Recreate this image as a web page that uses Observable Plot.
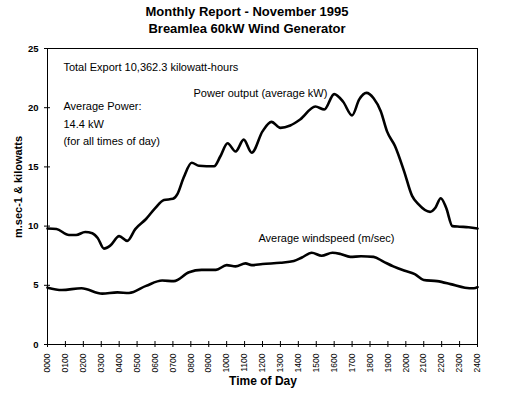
<!DOCTYPE html>
<html>
<head>
<meta charset="utf-8">
<script src="https://cdn.jsdelivr.net/npm/d3@7"></script>
<script src="https://cdn.jsdelivr.net/npm/@observablehq/plot@0.6"></script>
<style>
  body { margin: 0; background: #fff; }
  #wrap { position: relative; width: 521px; height: 399px; font-family: "Liberation Sans", Arial, sans-serif; }
  .t { position: absolute; left: 0; width: 494px; text-align: center; font-weight: bold; font-size: 13px; color: #000; }
  #ylab { position: absolute; left: 18px; top: 187px; transform: translate(-50%, -50%) rotate(-90deg); white-space: nowrap; font-weight: bold; font-size: 11px; }
  #xlab { position: absolute; left: 263px; top: 381px; transform: translate(-50%, -50%); white-space: nowrap; font-weight: bold; font-size: 12px; }
  svg { position: absolute; left: 0; top: 0; }
</style>
</head>
<body>
<div id="wrap">
  <div class="t" style="top:4px">Monthly Report - November 1995</div>
  <div class="t" style="top:21px">Breamlea 60kW Wind Generator</div>
  <div id="ylab">m.sec-1 &amp; kilowatts</div>
  <div id="xlab">Time of Day</div>
</div>
<script>
// Power output (average kW) by hour of day
const powerHours = [0, 0.5, 1.2, 1.6, 2.1, 2.5, 2.8, 3.15, 3.5, 4.0, 4.45, 4.9, 5.5, 6.0, 6.5, 7.0, 7.25, 7.6, 8.05, 8.45, 9.3, 9.65, 10.05, 10.5, 10.95, 11.4, 12.0, 12.5, 13.0, 13.55, 14.1, 14.95, 15.45, 16.0, 16.5, 17.0, 17.4, 17.8, 18.2, 18.6, 18.95, 19.4, 19.9, 20.35, 20.7, 21.35, 21.65, 21.95, 22.25, 22.6, 23.0, 23.5, 24.0];
const powerKW = [9.8, 9.75, 9.25, 9.25, 9.5, 9.4, 9.0, 8.1, 8.35, 9.15, 8.75, 9.75, 10.6, 11.5, 12.2, 12.3, 12.7, 14.1, 15.35, 15.1, 15.05, 15.9, 17.0, 16.3, 17.3, 16.2, 18.0, 18.8, 18.3, 18.5, 19.0, 20.1, 19.85, 21.15, 20.5, 19.35, 20.7, 21.25, 20.8, 19.7, 18.0, 16.75, 14.65, 12.55, 11.85, 11.2, 11.55, 12.35, 11.55, 10.0, 9.95, 9.9, 9.8];

// Average windspeed (m/sec) by hour of day
const windHours = [0, 0.8, 1.9, 3.05, 3.9, 4.55, 5.5, 6.4, 7.05, 7.9, 8.6, 9.4, 10.0, 10.5, 11.05, 11.4, 12.0, 13.0, 13.75, 14.2, 14.75, 15.3, 15.9, 16.35, 16.9, 17.5, 18.2, 18.75, 19.3, 19.9, 20.5, 21.0, 21.75, 22.5, 23.3, 23.8, 24.0];
const windMs = [4.8, 4.6, 4.75, 4.3, 4.4, 4.35, 4.95, 5.4, 5.35, 6.1, 6.3, 6.3, 6.7, 6.6, 6.85, 6.7, 6.8, 6.9, 7.05, 7.35, 7.75, 7.5, 7.75, 7.65, 7.4, 7.45, 7.4, 7.0, 6.6, 6.25, 5.95, 5.45, 5.35, 5.1, 4.8, 4.75, 4.85];

const xTicks = d3.range(0, 25, 1);
const xTickLabels = xTicks.map(h => String(h * 100).padStart(4, "0"));
const yTicks = [0, 5, 10, 15, 20, 25];

// Annotation texts with positions in data units (hour, value)
const noteTexts = ["Total Export 10,362.3 kilowatt-hours", "Power output (average kW)", "Average Power:", "14.4 kW", "(for all times of day)", "Average windspeed (m/sec)"];
const noteHours = [0.89, 8.15, 0.89, 0.89, 0.89, 11.77];
const noteValues = [23.4, 21.2, 20.1, 18.6, 17.15, 8.92];

const power = powerHours.map((h, i) => ({h, v: powerKW[i]}));
const wind = windHours.map((h, i) => ({h, v: windMs[i]}));
const notes = noteTexts.map((t, i) => ({t, h: noteHours[i], v: noteValues[i]}));

const chart = Plot.plot({
  width: 521,
  height: 399,
  marginLeft: 47,
  marginRight: 44,
  marginTop: 48,
  marginBottom: 55,
  style: {fontFamily: "'Liberation Sans', Arial, sans-serif", color: "#000", background: "transparent"},
  x: {domain: [0, 24]},
  y: {domain: [0, 25]},
  marks: [
    Plot.frame({stroke: "#000", strokeWidth: 1}),
    Plot.axisX({ticks: xTicks, tickSize: 6, dy: -3, tickFormat: () => "", label: null, strokeWidth: 1}),
    Plot.axisX({ticks: xTicks, tickSize: 0, tickPadding: 9, tickRotate: -90, tickFormat: (d) => xTickLabels[xTicks.indexOf(d)], label: null, fontSize: 8.5}),
    Plot.axisY({ticks: yTicks, tickSize: 6, dx: 3, tickFormat: () => "", label: null, strokeWidth: 1}),
    Plot.axisY({ticks: yTicks, tickSize: 0, tickPadding: 9, label: null, fontSize: 9.5, fontWeight: "bold"}),
    Plot.line(power, {x: "h", y: "v", curve: "monotone-x", stroke: "#000", strokeWidth: 2.6}),
    Plot.line(wind, {x: "h", y: "v", curve: "monotone-x", stroke: "#000", strokeWidth: 2.6}),
    Plot.text(notes, {x: "h", y: "v", text: "t", textAnchor: "start", fontSize: 11, fill: "#000"})
  ]
});
document.getElementById("wrap").appendChild(chart);
</script>
</body>
</html>
